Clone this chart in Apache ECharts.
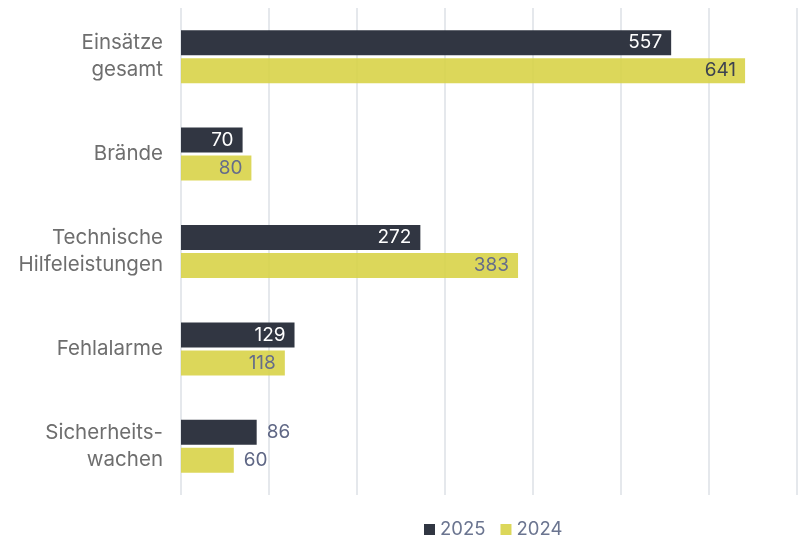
<!DOCTYPE html>
<html><head><meta charset="utf-8">
<script src="https://cdn.jsdelivr.net/npm/echarts@6/dist/echarts.min.js"></script>
<style>html,body{margin:0;padding:0;background:#fff}#c{width:805px;height:541px}</style>
</head><body><div id="c"></div>
<script>
const categories = ['Einsätze\ngesamt', 'Brände', 'Technische\nHilfeleistungen', 'Fehlalarme', 'Sicherheits-\nwachen'];
const values2025 = [557, 70, 272, 129, 86];
const values2024 = [641, 80, 383, 118, 60];
const outsideCats = ['Sicherheits-\nwachen'];

const chart = echarts.init(document.getElementById('c'));
chart.setOption({
  animation: false,
  textStyle: { fontFamily: 'Inter' },
  grid: { left: 181, right: 8, top: 8, bottom: 46, containLabel: false },
  legend: {
    bottom: 2, left: 424, padding: 0, itemWidth: 11, itemHeight: 11, itemGap: 15,
    icon: 'rect',
    textStyle: { color: '#6b7590', fontSize: 18.5, fontFamily: 'Inter' },
    data: ['2025', '2024']
  },
  xAxis: {
    type: 'value', min: 0, max: 700, interval: 100,
    axisLabel: { show: false }, axisLine: { show: false }, axisTick: { show: false },
    splitLine: { lineStyle: { color: '#dde0e6', width: 1.5 } }
  },
  yAxis: {
    type: 'category', inverse: true, data: categories,
    axisLine: { show: false }, axisTick: { show: false },
    axisLabel: { color: '#6e6e6e', fontSize: 20.5, lineHeight: 27, margin: 18, align: 'right', fontFamily: 'Inter' }
  },
  series: [
    {
      name: '2025', type: 'bar', barWidth: 25, barGap: '12%',
      itemStyle: { color: '#313642' },
      label: { show: true, position: 'insideRight', distance: 9, fontSize: 19, fontFamily: 'Inter' },
      data: values2025.map((v, i) => outsideCats.includes(categories[i])
        ? { value: v, label: { position: 'right', distance: 10, color: '#5f6785' } }
        : { value: v, label: { color: '#ffffff' } })
    },
    {
      name: '2024', type: 'bar', barWidth: 25,
      itemStyle: { color: 'rgba(216,211,72,0.9)' },
      label: { show: true, position: 'insideRight', distance: 9, fontSize: 19, fontFamily: 'Inter' },
      data: values2024.map((v, i) => outsideCats.includes(categories[i])
        ? { value: v, label: { position: 'right', distance: 10, color: '#5f6785' } }
        : { value: v, label: { color: i === 0 ? '#3d4250' : '#666d8a' } })
    }
  ]
});
</script></body></html>
